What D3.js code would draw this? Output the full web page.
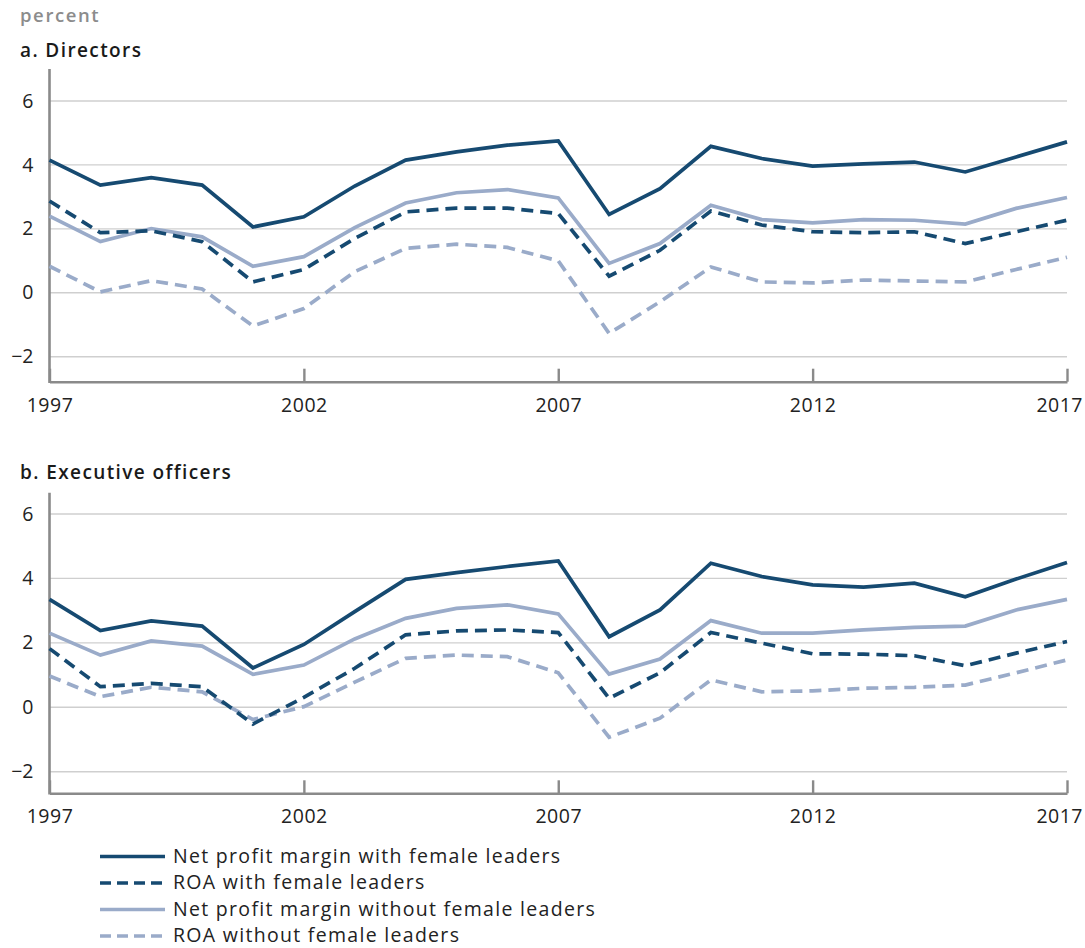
<!DOCTYPE html>
<html>
<head>
<meta charset="utf-8">
<script src="https://cdn.jsdelivr.net/npm/d3@7"></script>
<style>
  html, body { margin: 0; padding: 0; background: #fff; }
  svg { display: block; font-family: "Open Sans", "Noto Sans", sans-serif; }
</style>
</head>
<body>
<svg id="chart" width="1085" height="948"></svg>
<script>
// Years on the horizontal axis
const years = d3.range(1997, 2018);
const xTickYears = [1997, 2002, 2007, 2012, 2017];
const yTicks = [-2, 0, 2, 4, 6];

// Panel a: directors
const dirNpmWith = [4.15, 3.37, 3.6, 3.37, 2.06, 2.38, 3.34, 4.15, 4.41, 4.62, 4.75, 2.45, 3.26, 4.58, 4.2, 3.96, 4.03, 4.09, 3.78, 4.25, 4.72];
const dirRoaWith = [2.87, 1.88, 1.94, 1.6, 0.34, 0.73, 1.7, 2.53, 2.65, 2.65, 2.48, 0.52, 1.33, 2.56, 2.12, 1.91, 1.88, 1.91, 1.54, 1.91, 2.27];
const dirNpmWithout = [2.4, 1.6, 2.01, 1.75, 0.83, 1.13, 2.04, 2.81, 3.13, 3.23, 2.97, 0.92, 1.54, 2.74, 2.29, 2.19, 2.29, 2.27, 2.15, 2.64, 2.98];
const dirRoaWithout = [0.83, 0.03, 0.38, 0.12, -1.04, -0.49, 0.66, 1.39, 1.52, 1.42, 1.0, -1.27, -0.28, 0.81, 0.34, 0.31, 0.4, 0.37, 0.34, 0.73, 1.11];

// Panel b: executive officers
const exeNpmWith = [3.35, 2.38, 2.68, 2.52, 1.22, 1.95, 2.97, 3.97, 4.18, 4.37, 4.54, 2.19, 3.02, 4.47, 4.06, 3.8, 3.73, 3.85, 3.43, 3.98, 4.49];
const exeRoaWith = [1.82, 0.64, 0.74, 0.64, -0.52, 0.31, 1.21, 2.25, 2.37, 2.4, 2.32, 0.28, 1.07, 2.32, 1.99, 1.66, 1.65, 1.6, 1.29, 1.68, 2.04];
const exeNpmWithout = [2.3, 1.62, 2.06, 1.9, 1.02, 1.31, 2.12, 2.76, 3.07, 3.18, 2.9, 1.03, 1.5, 2.69, 2.3, 2.3, 2.4, 2.48, 2.52, 3.02, 3.35];
const exeRoaWithout = [0.97, 0.33, 0.62, 0.48, -0.38, 0.02, 0.78, 1.52, 1.62, 1.57, 1.07, -0.93, -0.34, 0.85, 0.48, 0.51, 0.59, 0.62, 0.69, 1.07, 1.47];

const seriesNames = [
  "Net profit margin with female leaders",
  "ROA with female leaders",
  "Net profit margin without female leaders",
  "ROA without female leaders"
];

const DARK = "#164a71";
const LIGHT = "#9aabc9";
const styles = [
  { color: DARK, dash: null },
  { color: DARK, dash: "12,7" },
  { color: LIGHT, dash: null },
  { color: LIGHT, dash: "12,7" }
];

const panels = [
  { title: "a. Directors", titleY: 57, top: 69, bottom: 381.7, domain: [-2.78, 7],
    data: [dirNpmWith, dirRoaWith, dirNpmWithout, dirRoaWithout] },
  { title: "b. Executive officers", titleY: 479, top: 492.7, bottom: 793.3, domain: [-2.67, 6.66],
    data: [exeNpmWith, exeRoaWith, exeNpmWithout, exeRoaWithout] }
];

const svg = d3.select("#chart");
const W = 1085;
const left = 49.5, right = 1067;

const x = d3.scaleLinear().domain([1997, 2017]).range([left, right]);

svg.append("text")
  .attr("x", 20).attr("y", 22)
  .attr("fill", "#8c8c8c")
  .attr("font-size", 18.5).attr("font-weight", 600)
  .attr("letter-spacing", 1.6)
  .text("percent");

panels.forEach(p => {
  const y = d3.scaleLinear().domain(p.domain).range([p.bottom, p.top]);
  const g = svg.append("g");

  g.append("text")
    .attr("x", 20).attr("y", p.titleY)
    .attr("fill", "#1a1a1a")
    .attr("font-size", 19).attr("font-weight", 600)
    .attr("letter-spacing", 1.4)
    .text(p.title);

  // horizontal gridlines
  g.append("g").selectAll("line").data(yTicks).join("line")
    .attr("x1", left).attr("x2", right)
    .attr("y1", d => y(d)).attr("y2", d => y(d))
    .attr("stroke", "#cfcfcf").attr("stroke-width", 1.4);

  // y tick labels
  g.append("g").selectAll("text").data(yTicks).join("text")
    .attr("x", 33.5).attr("y", d => y(d))
    .attr("dy", "0.34em")
    .attr("text-anchor", "end")
    .attr("fill", "#222")
    .attr("font-size", 19.5)
    .text(d => d < 0 ? "\u2212" + Math.abs(d) : d);

  // x axis with upward ticks
  const xAxis = d3.axisBottom(x)
    .tickValues(xTickYears)
    .tickFormat(d3.format("d"))
    .tickSizeInner(-13)
    .tickSizeOuter(0)
    .tickPadding(0);
  const ax = g.append("g")
    .attr("transform", `translate(0,${p.bottom})`)
    .call(xAxis);
  ax.select(".domain").attr("stroke", "#8a8a8a").attr("stroke-width", 2.6);
  ax.selectAll(".tick line").attr("stroke", "#8a8a8a").attr("stroke-width", 2.4);
  ax.selectAll(".tick text")
    .attr("y", 30).attr("dy", 0)
    .attr("fill", "#222")
    .attr("font-size", 19.5)
    .attr("letter-spacing", 0.5)
    .attr("font-family", "'Open Sans', 'Noto Sans', sans-serif");

  // keep tick labels inside the page
  ax.selectAll(".tick text").each(function () {
    const bb = this.getBBox();
    const tx = +d3.select(this.parentNode).attr("transform").match(/translate\(([-\d.]+)/)[1];
    const overflow = tx + bb.x + bb.width - (W - 2);
    if (overflow > 0) d3.select(this).attr("x", -overflow);
  });

  // y axis line
  g.append("line")
    .attr("x1", left).attr("x2", left)
    .attr("y1", p.top).attr("y2", p.bottom + 1.3)
    .attr("stroke", "#8a8a8a").attr("stroke-width", 2.6);

  const line = d3.line()
    .x((d, i) => x(years[i]))
    .y(d => y(d));

  // draw light series first, dark series on top
  [3, 2, 1, 0].forEach(k => {
    g.append("path")
      .datum(p.data[k])
      .attr("d", line)
      .attr("fill", "none")
      .attr("stroke", styles[k].color)
      .attr("stroke-width", 3.7)
      .attr("stroke-linejoin", "miter")
      .attr("stroke-dasharray", styles[k].dash);
  });
});

// legend
const legendY = [856.5, 883, 909.5, 936];
const lg = svg.append("g");
seriesNames.forEach((name, k) => {
  lg.append("line")
    .attr("x1", 100).attr("x2", 165)
    .attr("y1", legendY[k]).attr("y2", legendY[k])
    .attr("stroke", styles[k].color)
    .attr("stroke-width", 3.7)
    .attr("stroke-dasharray", styles[k].dash ? "11,6" : null);
  lg.append("text")
    .attr("x", 173).attr("y", legendY[k])
    .attr("dy", "0.33em")
    .attr("fill", "#222")
    .attr("font-size", 19.5)
    .attr("letter-spacing", 1.3)
    .text(name);
});
</script>
</body>
</html>
